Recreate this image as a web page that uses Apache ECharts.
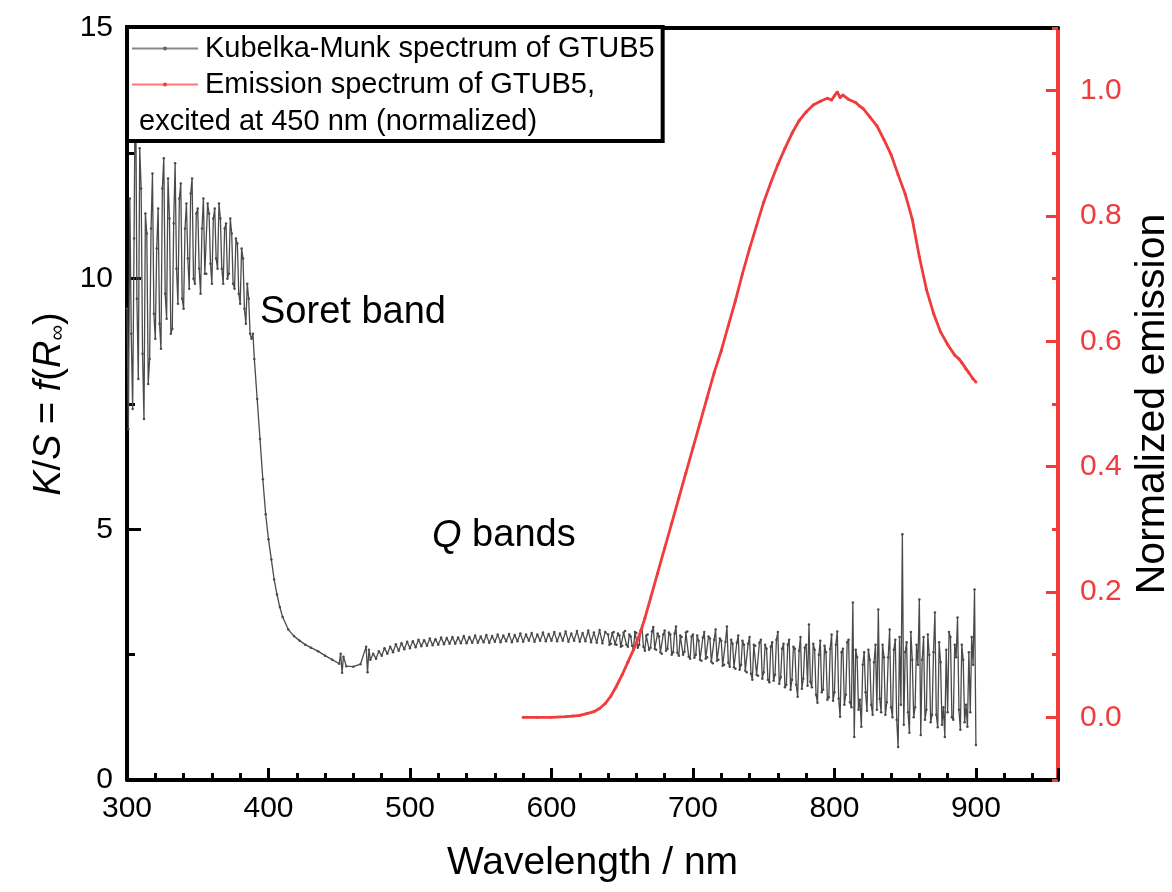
<!DOCTYPE html>
<html>
<head>
<meta charset="utf-8">
<script src="https://cdn.jsdelivr.net/npm/echarts@6/dist/echarts.min.js"></script>
<style>
html,body{margin:0;padding:0;background:#fff;}
#chart{width:1172px;height:892px;}
</style>
</head>
<body>
<div id="chart"></div>
<script>
// Kubelka-Munk spectrum of GTUB5: [wavelength nm, K/S]
const kmSpectrum = [
[300,9.4],[301,7.0],[302,11.6],[303,8.9],[304,7.4],[305,10.8],[306,14.6],[307,9.6],[308,8.0],[309,12.6],
[310,11.8],[311,8.5],[312,7.2],[313,11.3],[314,10.9],[315,7.9],[316,8.4],[317,11.0],[318,12.1],[319,9.3],
[320,8.8],[321,10.6],[322,11.4],[323,9.1],[324,8.6],[325,11.8],[326,12.4],[327,9.7],[328,9.2],[329,12.0],
[330,11.2],[331,8.9],[332,9.0],[333,11.1],[334,12.3],[335,10.2],[336,9.5],[337,11.6],[338,11.9],[339,9.6],
[340,9.4],[341,11.0],[342,11.5],[343,10.4],[344,9.8],[345,11.7],[346,12.0],[347,10.0],[348,9.9],[349,11.3],
[350,11.4],[351,10.2],[352,9.7],[353,11.0],[354,11.6],[355,10.1],[356,10.1],[357,11.5],[358,11.3],[359,10.3],
[360,9.9],[361,11.2],[362,11.4],[363,10.4],[364,10.2],[365,11.5],[366,11.2],[367,10.2],[368,9.9],[369,11.0],
[370,11.1],[371,10.0],[372,10.1],[373,11.2],[374,10.9],[375,9.9],[376,9.8],[377,10.8],[378,10.7],[379,9.7],
[380,9.5],[381,10.6],[382,10.4],[383,9.4],[384,9.1],[385,9.9],[386,9.6],[387,8.9],[388,8.8],[389,8.9],
[390,8.4],[392,7.6],[394,6.8],[396,6.0],[398,5.3],
[400,4.8],[402,4.4],[404,4.0],[406,3.7],[408,3.45],[410,3.25],[414,3.0],[418,2.87],[422,2.78],[426,2.70],
[430,2.64],[435,2.57],[440,2.48],[445,2.40],[450,2.32],[451,2.52],[452,2.14],[453,2.46],[455,2.27],[460,2.26],
[465,2.31],[469,2.66],[470,2.15],[471,2.60],[472,2.40],[474,2.52],[476,2.42],[478,2.57],[480,2.48],[482,2.63],
[484,2.52],[486,2.66],[488,2.55],[490,2.71],[492,2.58],[494,2.73],[496,2.61],[498,2.76],[500,2.63],[502,2.77],
[504,2.65],[506,2.80],[508,2.67],[510,2.79],[512,2.68],[514,2.82],[516,2.69],[518,2.81],[520,2.70],[522,2.84],
[524,2.71],[526,2.83],[528,2.72],[530,2.85],[532,2.72],[534,2.84],[536,2.73],[538,2.87],[540,2.73],[542,2.85],
[544,2.74],[546,2.88],[548,2.74],[550,2.86],[552,2.75],[554,2.89],[556,2.74],[558,2.87],[560,2.76],[562,2.90],
[564,2.75],[566,2.88],[568,2.77],[570,2.91],[572,2.75],[574,2.89],[576,2.77],[578,2.92],[580,2.76],[582,2.90],
[584,2.78],[586,2.93],[588,2.76],[590,2.90],[592,2.78],[594,2.94],[596,2.77],[598,2.91],[600,2.78],[602,2.95],
[604,2.77],[606,2.92],[608,2.78],[610,2.96],[612,2.76],[614,2.92],[616,2.78],[618,2.97],[620,2.76],[622,2.93],
[624,2.77],[626,2.98],[628,2.75],[630,2.94],[632,2.74],[634,2.99],[636,2.73],[638,2.95],
[640,2.90],[641,2.70],[642,2.72],[643,2.93],[644,2.95],[645,2.71],[646,2.70],[647,2.92],[648,2.88],[649,2.66],
[650,2.68],[651,2.94],[652,2.97],[653,2.70],[654,2.66],[655,2.90],[656,2.86],[657,2.68],[658,2.62],[659,2.95],
[660,2.93],[661,2.64],[662,2.70],[663,2.98],[664,3.02],[665,2.66],[666,2.58],[667,2.88],[668,2.90],[669,2.60],
[670,2.64],[671,2.96],[672,3.05],[673,2.62],[674,2.60],[675,2.92],[676,2.86],[677,2.55],[678,2.52],[679,2.90],
[680,2.98],[681,2.58],[682,2.62],[683,2.94],[684,2.90],[685,2.50],[686,2.55],[687,2.92],[688,3.06],[689,2.54],
[690,2.48],[691,2.88],[692,2.85],[693,2.50],[694,2.56],[695,2.94],[696,2.96],[697,2.46],[698,2.42],[699,2.86],
[700,2.90],[701,2.44],[702,2.50],[703,2.88],[704,2.78],[705,2.40],[706,2.38],[707,2.84],[708,2.95],[709,2.42],
[710,2.45],[711,2.86],[712,2.82],[713,2.36],[714,2.33],[715,2.80],[716,3.00],[717,2.38],[718,2.40],[719,2.82],
[720,2.78],[721,2.28],[722,2.30],[723,2.76],[724,3.06],[725,2.34],[726,2.26],[727,2.80],[728,2.72],[729,2.25],
[730,2.22],[731,2.74],[732,2.88],[733,2.20],[734,2.30],[735,2.78],[736,2.70],[737,2.18],[738,2.15],[739,2.72],
[740,2.85],[741,2.12],[742,2.00],[743,2.70],[744,2.68],[745,2.10],[746,2.08],[747,2.74],[748,2.80],[749,2.02],
[750,2.15],[751,2.70],[752,2.62],[753,2.00],[754,1.95],[755,2.66],[756,2.75],[757,1.98],[758,2.10],[759,2.80],
[760,2.95],[761,1.92],[762,2.05],[763,2.62],[764,2.72],[765,1.85],[766,1.90],[767,2.70],[768,2.80],[769,1.80],
[770,2.00],[771,2.66],[772,2.62],[773,1.90],[774,1.66],[775,2.58],[776,2.85],[777,1.82],[778,2.02],[779,2.64],
[780,2.70],[781,1.88],[782,3.10],[783,1.96],[784,1.85],[785,2.72],[786,2.60],[787,1.70],[788,1.54],[789,2.50],
[790,2.78],[791,1.75],[792,1.80],[793,2.68],[794,2.55],[795,1.60],[796,1.65],[797,2.62],[798,2.90],[799,1.58],
[800,1.75],[801,2.70],[802,2.96],[803,1.62],[804,1.26],[805,2.55],[806,2.62],[807,1.50],[808,1.70],[809,2.75],
[810,2.80],[811,1.55],[812,1.45],[813,3.54],[814,0.86],[815,2.60],[816,2.45],[817,1.40],[818,1.60],[819,1.06],
[820,2.30],[821,2.55],[822,1.75],[823,1.38],[824,2.60],[825,2.40],[826,1.50],[827,1.30],[828,2.35],[829,2.70],
[830,1.40],[831,3.40],[832,1.62],[833,1.35],[834,2.70],[835,2.45],[836,1.30],[837,1.55],[838,2.45],[839,3.00],
[840,1.45],[841,1.25],[842,2.60],[843,2.80],[844,1.20],[845,0.66],[846,2.85],[847,1.50],[848,4.90],[849,1.10],
[850,2.55],[851,2.75],[852,1.35],[853,0.94],[854,2.95],[855,2.40],[856,1.25],[857,1.45],[858,2.70],[859,2.30],
[860,3.60],[861,0.90],[862,2.40],[863,2.85],[864,1.20],[865,1.40],[866,2.90],[867,2.50],[868,1.15],[869,1.30],
[870,2.55],[871,3.34],[872,1.30],[873,1.05],[874,2.75],[875,2.35],[876,1.10],[877,1.45],[878,0.86],[879,2.60],
[880,1.35],[881,2.95],[882,2.85],[883,1.25],[884,1.20],[885,2.70],[886,2.45],[887,3.24],[888,1.40],[889,1.00],
[890,2.70],[891,2.40],[892,1.15],[893,1.50],[894,1.06],[895,2.55],[896,1.35],[897,2.85],[898,2.30],[899,3.80],
[900,0.70]
];

// Emission spectrum of GTUB5 (normalized): [wavelength nm, intensity]
const emission = [
[580,0.0],[590,0.0],[600,0.0],[610,0.001],[615,0.002],[620,0.003],[625,0.006],[630,0.009],[634,0.014],[638,0.022],
[642,0.034],[646,0.050],[650,0.068],[654,0.088],[658,0.108],[662,0.130],[666,0.158],[670,0.190],[675,0.230],[680,0.270],
[685,0.310],[690,0.350],[695,0.390],[700,0.430],[705,0.470],[710,0.510],[715,0.550],[720,0.585],[725,0.625],[730,0.665],
[735,0.708],[740,0.748],[745,0.785],[750,0.822],[755,0.853],[760,0.882],[765,0.908],[770,0.932],[775,0.952],[780,0.966],
[785,0.977],[790,0.983],[795,0.988],[798,0.985],[800,0.992],[802,0.998],[804,0.989],[806,0.993],[810,0.986],[815,0.981],
[818,0.975],[820,0.972],[825,0.958],[830,0.944],[835,0.922],[840,0.898],[845,0.866],[850,0.835],[855,0.795],[860,0.735],
[865,0.683],[870,0.645],[875,0.615],[880,0.595],[885,0.578],[888,0.572],[890,0.566],[893,0.556],[895,0.550],[898,0.540],
[900,0.535]
];

const xTickLabels = [300,400,500,600,700,800,900];
const rightTickLabels = [0.0,0.2,0.4,0.6,0.8,1.0];
const seriesNames = ['Kubelka-Munk spectrum of GTUB5','Emission spectrum of GTUB5,'];
const legendExtraLine = 'excited at 450 nm (normalized)';

const FONT = 'Liberation Sans, Arial, Helvetica, sans-serif';
const RED = '#f03c3c';
const GRAY = '#4a4a4a';

const chart = echarts.init(document.getElementById('chart'), null, {renderer:'canvas'});

const option = {
  animation: false,
  backgroundColor: '#fff',
  textStyle: {fontFamily: FONT},
  grid: {left: 127, right: 114, top: 28, bottom: 112, containLabel: false, outerBoundsMode: 'none'},
  legend: {
    orient: 'vertical',
    left: 127, top: 27,
    data: [
      {name: seriesNames[0], itemStyle: {color: '#666'}, lineStyle: {color: '#888', width: 2}},
      {name: seriesNames[1], itemStyle: {color: '#f04040'}, lineStyle: {color: '#f77', width: 2}}
    ],
    backgroundColor: '#fff',
    borderColor: '#000',
    borderWidth: 4,
    padding: [7, 8, 42, 4],
    itemGap: 7,
    itemWidth: 66,
    itemHeight: 5,
    textStyle: {fontSize: 29, color: '#000', fontFamily: FONT, padding:[0,0,0,2]},
    z: 10
  },
  graphic: [
    {type: 'text', left: 139, top: 107, z: 100,
     style: {text: legendExtraLine, fontSize: 29, fill: '#000', fontFamily: FONT}},
    {type: 'text', left: 260, top: 294, z: 100,
     style: {text: 'Soret band', fontSize: 38, fill: '#000', fontFamily: FONT}},
    {type: 'text', left: 432, top: 517, z: 100,
     style: {text: '{i|Q} bands', fontSize: 38, fill: '#000', fontFamily: FONT,
       rich: {i: {fontStyle: 'italic', fontSize: 38, fontFamily: FONT, fill:'#000'}}}}
  ],
  xAxis: [
    {
      type: 'value', position: 'bottom', min: 300, max: 958, interval: 100,
      name: 'Wavelength / nm', nameLocation: 'middle', nameGap: 64,
      nameTextStyle: {fontSize: 39, color: '#000', fontFamily: FONT},
      axisLine: {show: true, onZero: false, lineStyle: {color: '#000', width: 4}},
      axisTick: {show: true, inside: true, length: 12, lineStyle: {color: '#000', width: 3}},
      axisLabel: {fontSize: 30, color: '#000', margin: 14, fontFamily: FONT,
        formatter: v => (xTickLabels.indexOf(Math.round(v)) >= 0 ? String(Math.round(v)) : '')},
      splitLine: {show: false}
    },
    {
      type: 'value', position: 'bottom', min: 300, max: 958, interval: 20,
      axisLine: {show: false, onZero: false},
      axisTick: {show: true, inside: true, length: 7, lineStyle: {color: '#000', width: 3}},
      axisLabel: {show: false},
      splitLine: {show: false}
    },
    {
      type: 'value', position: 'top', min: 300, max: 958,
      axisLine: {show: true, onZero: false, lineStyle: {color: '#000', width: 4}},
      axisTick: {show: false}, axisLabel: {show: false}, splitLine: {show: false}
    }
  ],
  yAxis: [
    {
      type: 'value', position: 'left', min: 0, max: 15, interval: 5,
      name: '{i|K}/{i|S} = {i|f}({i|R}{sub|∞})',
      nameLocation: 'middle', nameGap: 50,
      nameTextStyle: {fontSize: 38, color: '#000', fontFamily: FONT,
        rich: {
          i: {fontStyle: 'italic', fontSize: 38, fontFamily: FONT, color: '#000'},
          sub: {fontSize: 22, fontFamily: FONT, color: '#000', verticalAlign: 'bottom', padding: [16,0,0,0]}
        }},
      axisLine: {show: true, onZero: false, lineStyle: {color: '#000', width: 4}},
      axisTick: {show: true, inside: true, length: 14, lineStyle: {color: '#000', width: 3}},
      minorTick: {show: true, splitNumber: 2, length: 8, lineStyle: {color: '#000', width: 3}},
      axisLabel: {fontSize: 30, color: '#000', margin: 14, fontFamily: FONT},
      splitLine: {show: false}, minorSplitLine: {show: false}
    },
    {
      type: 'value', position: 'right', min: -0.1, max: 1.1, interval: 0.1,
      name: 'Normalized emission', nameLocation: 'middle', nameGap: 72,
      nameTextStyle: {fontSize: 41, color: '#000', fontFamily: FONT},
      axisLine: {show: true, onZero: false, lineStyle: {color: RED, width: 4}},
      axisTick: {show: true, inside: true, length: 12, lineStyle: {color: RED, width: 3},
        customValues: rightTickLabels},
      axisLabel: {fontSize: 30, color: RED, margin: 22, fontFamily: FONT,
        customValues: rightTickLabels,
        formatter: v => {const r = Math.round(v * 10); return (r % 2 === 0 && r >= 0 && r <= 10) ? (r / 10).toFixed(1) : '';}},
      splitLine: {show: false}
    },
    {
      type: 'value', position: 'right', min: -0.1, max: 1.1, interval: 0.1,
      axisLine: {show: false, onZero: false},
      axisTick: {show: true, inside: true, length: 6, lineStyle: {color: RED, width: 3}},
      axisLabel: {show: false},
      splitLine: {show: false}
    }
  ],
  series: [
    {
      name: seriesNames[0], type: 'line', xAxisIndex: 0, yAxisIndex: 0,
      data: kmSpectrum,
      symbol: 'circle', symbolSize: 2.5, showSymbol: true, showAllSymbol: true,
      itemStyle: {color: GRAY},
      lineStyle: {color: GRAY, width: 1.3},
      emphasis: {disabled: true},
      z: 3
    },
    {
      name: seriesNames[1], type: 'line', xAxisIndex: 0, yAxisIndex: 1,
      data: emission,
      symbol: 'circle', symbolSize: 3, showSymbol: true, showAllSymbol: true,
      itemStyle: {color: RED},
      lineStyle: {color: RED, width: 2.8},
      emphasis: {disabled: true},
      z: 4
    }
  ]
};
chart.setOption(option);
</script>
</body>
</html>
